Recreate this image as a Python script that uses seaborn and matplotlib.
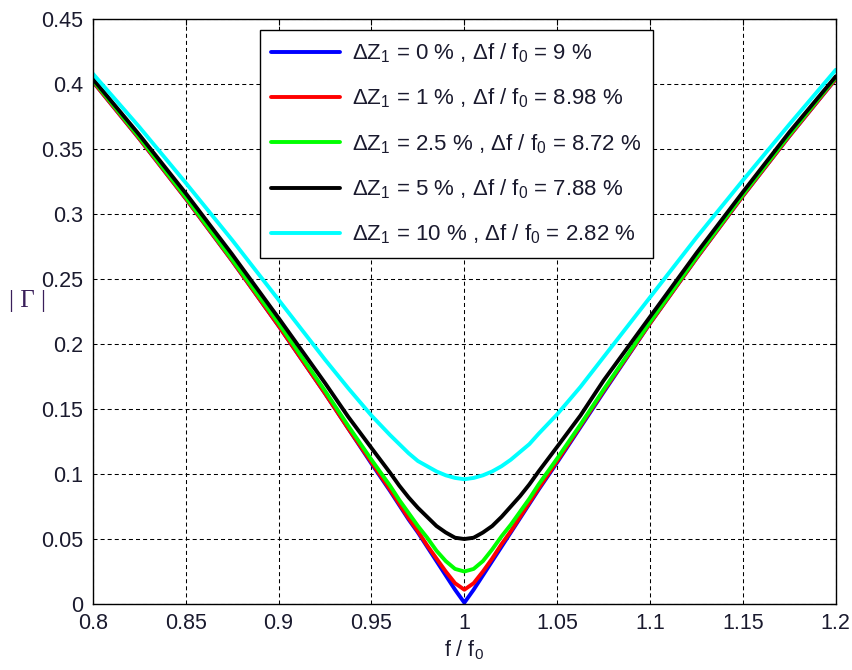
import matplotlib
matplotlib.use('Agg')
from matplotlib import pyplot as plt
import pandas as pd
import seaborn as sns

# f / f0 sample points
f_ratio = [0.80, 0.825, 0.85, 0.875, 0.90, 0.925, 0.9375, 0.95, 0.96, 0.965, 0.97, 0.975, 0.98, 0.985,
           0.99, 0.995, 1.00,
           1.005, 1.01, 1.015, 1.02, 1.025, 1.03, 1.035, 1.04, 1.05, 1.0625, 1.075, 1.10, 1.125, 1.15,
           1.175, 1.20]

# |Gamma|
gamma_dz0 = [0.402, 0.358, 0.312, 0.264, 0.214, 0.162, 0.135, 0.108, 0.087, 0.076, 0.065, 0.055, 0.044,
             0.033, 0.022, 0.011, 0.001,
             0.011, 0.022, 0.033, 0.044, 0.055, 0.066, 0.077, 0.088, 0.109, 0.136, 0.163, 0.216, 0.266,
             0.314, 0.360, 0.404]
gamma_dz1 = [0.402, 0.358, 0.312, 0.264, 0.214, 0.162, 0.135, 0.109, 0.088, 0.077, 0.066, 0.056, 0.045,
             0.035, 0.025, 0.016, 0.011,
             0.016, 0.025, 0.035, 0.046, 0.056, 0.067, 0.078, 0.089, 0.110, 0.137, 0.164, 0.216, 0.266,
             0.314, 0.360, 0.404]
gamma_dz25 = [0.403, 0.359, 0.313, 0.265, 0.216, 0.164, 0.137, 0.111, 0.091, 0.080, 0.070, 0.060, 0.051,
              0.041, 0.033, 0.027, 0.025,
              0.027, 0.033, 0.042, 0.052, 0.061, 0.071, 0.081, 0.092, 0.112, 0.138, 0.165, 0.217, 0.267,
              0.315, 0.361, 0.405]
gamma_dz5 = [0.404, 0.361, 0.316, 0.269, 0.220, 0.170, 0.144, 0.120, 0.101, 0.091, 0.082, 0.074, 0.067,
             0.060, 0.055, 0.051, 0.050,
             0.051, 0.055, 0.060, 0.067, 0.075, 0.083, 0.092, 0.102, 0.121, 0.145, 0.172, 0.221, 0.270,
             0.317, 0.363, 0.406]
gamma_dz10 = [0.408, 0.367, 0.324, 0.280, 0.234, 0.188, 0.166, 0.145, 0.130, 0.123, 0.116, 0.110, 0.106,
              0.102, 0.099, 0.097, 0.096,
              0.097, 0.099, 0.102, 0.106, 0.111, 0.117, 0.123, 0.131, 0.146, 0.167, 0.190, 0.236, 0.282,
              0.326, 0.369, 0.411]

labels = ['ΔZ$_1$ = 0 % , Δf / f$_0$ = 9 %',
          'ΔZ$_1$ = 1 % , Δf / f$_0$ = 8.98 %',
          'ΔZ$_1$ = 2.5 % , Δf / f$_0$ = 8.72 %',
          'ΔZ$_1$ = 5 % , Δf / f$_0$ = 7.88 %',
          'ΔZ$_1$ = 10 % , Δf / f$_0$ = 2.82 %']
colors = ['#0000ff', '#ff0000', '#00ff00', '#000000', '#00ffff']
series = [gamma_dz0, gamma_dz1, gamma_dz25, gamma_dz5, gamma_dz10]

df = pd.concat([pd.DataFrame({'f': f_ratio, 'gamma': g, 'case': lab})
                for g, lab in zip(series, labels)], ignore_index=True)

sns.set_style('white')
plt.rcParams['font.family'] = ['Liberation Sans', 'DejaVu Sans']
plt.rcParams['mathtext.fontset'] = 'custom'
plt.rcParams['mathtext.rm'] = 'Liberation Sans'
plt.rcParams['mathtext.default'] = 'regular'
plt.rcParams['lines.scale_dashes'] = False

fig = plt.figure(figsize=(8.52, 6.70), dpi=100)
ax = fig.add_axes([0.109, 0.0985, 0.872, 0.873])

sns.lineplot(data=df, x='f', y='gamma', hue='case', palette=colors,
             sort=False, linewidth=2.8, ax=ax)

ax.set_xlim(0.8, 1.2)
ax.set_ylim(0, 0.45)
ax.set_xticks([0.8, 0.85, 0.9, 0.95, 1, 1.05, 1.1, 1.15, 1.2])
ax.set_xticklabels(['0.8', '0.85', '0.9', '0.95', '1', '1.05', '1.1', '1.15', '1.2'])
ax.set_yticks([0, 0.05, 0.1, 0.15, 0.2, 0.25, 0.3, 0.35, 0.4, 0.45])
ax.set_yticklabels(['0', '0.05', '0.1', '0.15', '0.2', '0.25', '0.3', '0.35', '0.4', '0.45'])

ax.grid(True, color='black', linewidth=0.75, linestyle=(0, (2.9, 2.2)))
ax.set_axisbelow(True)
for s in ax.spines.values():
    s.set_color('black')
    s.set_linewidth(1.0)
ax.tick_params(axis='both', direction='in', length=4, width=0.8, color='black',
               top=True, right=True, labelsize=15.5, labelcolor='#1a1a2e')
ax.tick_params(axis='y', pad=7)
ax.tick_params(axis='x', pad=6.5)

ax.set_xlabel('f / f$_0$', fontsize=15.5, color='#1a1a2e')
ax.xaxis.set_label_coords(0.5, -0.058)
ax.set_ylabel('| Γ |', fontsize=18, rotation=0, color='#3a1f5a',
              family=['Liberation Serif', 'DejaVu Serif'])
ax.yaxis.set_label_coords(-0.088, 0.5)

handles, labs = ax.get_legend_handles_labels()
leg = ax.legend(handles, labs, loc='upper left', bbox_to_anchor=(0.225, 0.981),
                fontsize=16, frameon=True, fancybox=False, framealpha=1,
                edgecolor='black', handlelength=3.1, handletextpad=0.55,
                labelspacing=0.98, borderpad=0.5, borderaxespad=0)
leg.get_frame().set_linewidth(1.0)
for t in leg.get_texts():
    t.set_color('#1a1a2e')

fig.savefig('out.png', dpi=100)
